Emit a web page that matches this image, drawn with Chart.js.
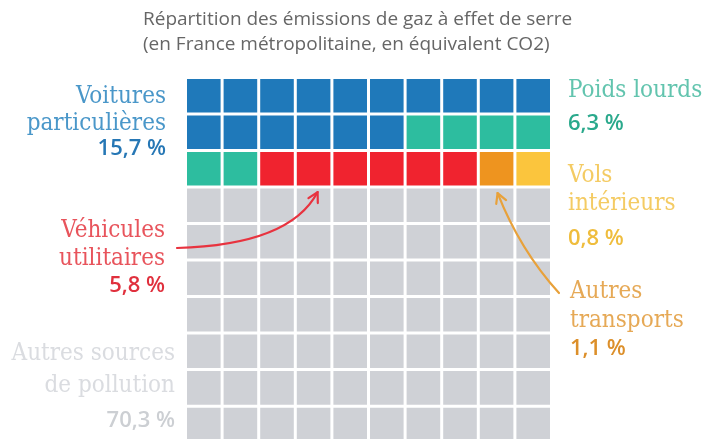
<!DOCTYPE html>
<html>
<head>
<meta charset="utf-8">
<script src="https://cdn.jsdelivr.net/npm/chart.js@4.4.1/dist/chart.umd.min.js"></script>
<style>
html,body{margin:0;padding:0;background:#fff;overflow:hidden}
#c{display:block}
</style>
</head>
<body>
<canvas id="c" width="710" height="439"></canvas>
<script>
// data
var titleLines=['Répartition des émissions de gaz à effet de serre','(en France métropolitaine, en équivalent CO2)'];
var categories=[['Voitures','particulières'],['Poids lourds'],['Véhicules','utilitaires'],['Autres','transports'],['Vols','intérieurs'],['Autres sources','de pollution']];
var shares=[15.7,6.3,5.8,1.1,0.8,70.3];
var columns=['1','2','3','4','5','6','7','8','9','10'];
var rowCount=10;

var cellColors=['#1f79ba','#2dbd9f','#f0232f','#ee941f','#fbc53d','#cfd1d6'];
var nameColors=['#4a97c9','#62c4ae','#e8545c','#e6a956','#f4cb63','#dadce0'];
var pctColors=['#2677b5','#2aa98c','#e0303d','#dc8f2a','#efbd3d','#cccfd3'];

// where the labels sit (baselines)
var labelPos=[
	{x:166,align:'right',y:[103,130],py:155},
	{x:568,align:'left',y:[97],py:130},
	{x:165,align:'right',y:[237,265],py:292},
	{x:570,align:'left',y:[298,327],py:355},
	{x:568,align:'left',y:[182,210],py:245},
	{x:175,align:'right',y:[360,392],py:427}
];

var nameFont='24px "DejaVu Serif Condensed", "Liberation Serif", serif';
var pctFont='600 22px "Open Sans", sans-serif';
var titleFont='19px "Open Sans", sans-serif';

// one cell per percent point
var cells=[];
for(var i=0;i<shares.length;i++){
	var n=Math.round(shares[i]);
	for(var j=0;j<n;j++) cells.push(cellColors[i]);
}

var datasets=[];
for(var r=0;r<rowCount;r++){
	datasets.push({
		label:'row '+(r+1),
		data:columns.map(function(){return 1;}),
		backgroundColor:cells.slice(r*columns.length,(r+1)*columns.length)
	});
}

function fmtPct(v){
	return v.toFixed(1).replace('.',',')+' %';
}

function drawArrow(ctx,p0,p1,p2,color){
	ctx.save();
	ctx.strokeStyle=color;
	ctx.lineWidth=2.2;
	ctx.lineCap='round';
	ctx.lineJoin='round';
	ctx.beginPath();
	ctx.moveTo(p0[0],p0[1]);
	ctx.quadraticCurveTo(p1[0],p1[1],p2[0],p2[1]);
	ctx.stroke();
	var a=Math.atan2(p2[1]-p1[1],p2[0]-p1[0]);
	var len=11;
	ctx.beginPath();
	ctx.moveTo(p2[0]-len*Math.cos(a-0.5),p2[1]-len*Math.sin(a-0.5));
	ctx.lineTo(p2[0],p2[1]);
	ctx.lineTo(p2[0]-len*Math.cos(a+0.5),p2[1]-len*Math.sin(a+0.5));
	ctx.stroke();
	ctx.restore();
}

var labelsPlugin={
	id:'waffleLabels',
	afterDraw:function(chart){
		var ctx=chart.ctx;
		ctx.save();
		ctx.textBaseline='alphabetic';
		// title
		ctx.font=titleFont;
		ctx.fillStyle='#666666';
		ctx.textAlign='left';
		ctx.fillText(titleLines[0],143,25);
		ctx.fillText(titleLines[1],143,50);
		// category labels
		for(var k=0;k<categories.length;k++){
			var p=labelPos[k];
			ctx.textAlign=p.align;
			ctx.font=nameFont;
			ctx.fillStyle=nameColors[k];
			for(var l=0;l<categories[k].length;l++){
				ctx.fillText(categories[k][l],p.x,p.y[l]);
			}
			ctx.font=pctFont;
			ctx.fillStyle=pctColors[k];
			ctx.fillText(fmtPct(shares[k]),p.x,p.py);
		}
		ctx.restore();

		// arrows, aimed at the cells through the scales
		var xs=chart.scales.x, ys=chart.scales.y;
		var redTip=[xs.getPixelForValue(3)+4,ys.getPixelForValue(3)+5];
		drawArrow(ctx,[177,248],[290,245],redTip,'#e8333f');
		var orTip=[xs.getPixelForValue(8)+1,ys.getPixelForValue(3)+6];
		drawArrow(ctx,[559,293],[520,250],orTip,'#e8a13a');
	}
};

var chart=new Chart(document.getElementById('c').getContext('2d'),{
	type:'bar',
	data:{labels:columns,datasets:datasets},
	options:{
		responsive:false,
		animation:false,
		events:[],
		layout:{padding:{left:185.5,right:158.5,top:77.5,bottom:0}},
		datasets:{
			bar:{
				categoryPercentage:1,
				barPercentage:1,
				borderWidth:1.5,
				borderColor:'#ffffff',
				borderSkipped:false,
				inflateAmount:0
			}
		},
		scales:{
			x:{display:false,stacked:true},
			y:{display:false,stacked:true,reverse:true,min:0,max:9.9}
		},
		plugins:{
			legend:{display:false},
			tooltip:{enabled:false},
			title:{display:false}
		}
	},
	plugins:[labelsPlugin]
});
</script>
</body>
</html>
